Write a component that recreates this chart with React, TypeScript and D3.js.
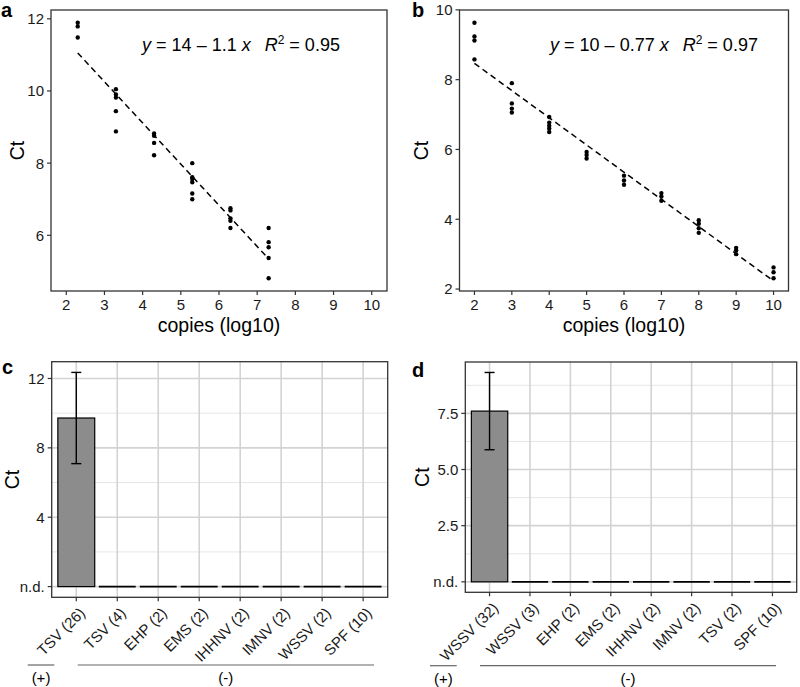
import React from "react";
import * as d3 from "d3";

// ---------- DATA ----------
const aCopies = [2.3, 2.3, 2.3, 3.3, 3.3, 3.3, 3.3, 3.3, 4.3, 4.3, 4.3, 4.3, 5.3, 5.3, 5.3, 5.3, 5.3, 5.3, 6.3, 6.3, 6.3, 6.3, 6.3, 7.3, 7.3, 7.3, 7.3, 7.3];
const aCt = [11.89, 11.79, 11.48, 10.05, 9.9, 9.82, 9.44, 8.88, 8.82, 8.76, 8.56, 8.22, 8.0, 7.61, 7.56, 7.47, 7.16, 7.0, 6.75, 6.69, 6.47, 6.4, 6.2, 6.2, 5.81, 5.67, 5.37, 4.81];
const bCopies = [2, 2, 2, 2, 3, 3, 3, 3, 4, 4, 4, 4, 4, 5, 5, 5, 6, 6, 6, 7, 7, 7, 8, 8, 8, 8, 9, 9, 9, 10, 10, 10];
const bCt = [9.63, 9.24, 9.12, 8.58, 7.9, 7.32, 7.17, 7.06, 6.93, 6.77, 6.68, 6.6, 6.5, 5.93, 5.84, 5.74, 5.25, 5.11, 4.99, 4.75, 4.65, 4.53, 3.97, 3.87, 3.74, 3.61, 3.18, 3.11, 3.0, 2.62, 2.48, 2.31];
const copiesLimits = [2, 10];
const copiesTicks = [2, 3, 4, 5, 6, 7, 8, 9, 10];
const aCtTicks = [6, 8, 10, 12];
const bCtTicks = [2, 4, 6, 8, 10];
const aEquation = { intercept: "14", slope: "1.1", r2: "0.95" };
const bEquation = { intercept: "10", slope: "0.77", r2: "0.97" };

const cCategories = ["TSV (26)", "TSV (4)", "EHP (2)", "EMS (2)", "IHHNV (2)", "IMNV (2)", "WSSV (2)", "SPF (10)"];
const cMean = [9.72, 0, 0, 0, 0, 0, 0, 0];
const cSd = [2.63, 0, 0, 0, 0, 0, 0, 0];
const cTicks = [0, 4, 8, 12];
const cTickLabels = ["n.d.", "4", "8", "12"];
const cMinor = [2, 6, 10];

const dCategories = ["WSSV (32)", "WSSV (3)", "EHP (2)", "EMS (2)", "IHHNV (2)", "IMNV (2)", "TSV (2)", "SPF (10)"];
const dMean = [7.6, 0, 0, 0, 0, 0, 0, 0];
const dSd = [1.72, 0, 0, 0, 0, 0, 0, 0];
const dTicks = [0, 2.5, 5, 7.5];
const dTickLabels = ["n.d.", "2.5", "5.0", "7.5"];
const dMinor = [1.25, 3.75, 6.25, 8.75];

const groupLabels = ["(+)", "(-)"];

// ---------- STYLE ----------
const FONT = "'Liberation Sans', Arial, Helvetica, sans-serif";
const AXIS = "#333333";
const TICKFS = 15;
const TITLEFS = 19.5;

function expand(lo: number, hi: number, m = 0.05): [number, number] {
  const r = hi - lo;
  return [lo - r * m, hi + r * m];
}

type ScatterProps = {
  box: { l: number; t: number; r: number; b: number };
  xs: number[];
  ys: number[];
  yTicks: number[];
  eq: { intercept: string; slope: string; r2: string };
  eqX: number;
  label: string;
  labelX: number;
  labelY: number;
  ctX: number;
};

function ScatterPanel({ box, xs, ys, yTicks, eq, eqX, label, labelX, labelY, ctX }: ScatterProps) {
  const x = d3.scaleLinear().domain(expand(copiesLimits[0], copiesLimits[1])).range([box.l, box.r]);
  const [ymin, ymax] = d3.extent(ys) as [number, number];
  const y = d3.scaleLinear().domain(expand(ymin, ymax)).range([box.b, box.t]);
  // least squares fit
  const mx = d3.mean(xs)!;
  const my = d3.mean(ys)!;
  let sxy = 0, sxx = 0;
  xs.forEach((v, i) => { sxy += (v - mx) * (ys[i] - my); sxx += (v - mx) * (v - mx); });
  const slope = sxy / sxx;
  const icpt = my - slope * mx;
  const [x0, x1] = d3.extent(xs) as [number, number];
  const line = d3.line<number>().x((v) => x(v)).y((v) => y(icpt + slope * v));
  const cy = (box.t + box.b) / 2;
  const cx = (box.l + box.r) / 2;
  return (
    <g>
      <rect x={box.l} y={box.t} width={box.r - box.l} height={box.b - box.t} fill="white" stroke={AXIS} strokeWidth={1.3} />
      {xs.map((v, i) => (
        <circle key={i} cx={x(v)} cy={y(ys[i])} r={2.2} fill="black" />
      ))}
      <path d={line([x0, x1]) || ""} fill="none" stroke="black" strokeWidth={1.5} strokeDasharray="6,4" />
      {copiesTicks.map((t) => (
        <g key={t}>
          <line x1={x(t)} x2={x(t)} y1={box.b} y2={box.b + 4} stroke={AXIS} strokeWidth={1.2} />
          <text x={x(t)} y={box.b + 19} textAnchor="middle" fontSize={TICKFS} fill="#1a1a1a">{t}</text>
        </g>
      ))}
      {yTicks.map((t) => (
        <g key={t}>
          <line x1={box.l - 4} x2={box.l} y1={y(t)} y2={y(t)} stroke={AXIS} strokeWidth={1.2} />
          <text x={box.l - 7} y={y(t)} dy="0.36em" textAnchor="end" fontSize={TICKFS} fill="#1a1a1a">{t}</text>
        </g>
      ))}
      <text x={cx} y={box.b + 41} textAnchor="middle" fontSize={TITLEFS}>copies (log10)</text>
      <text transform={`translate(${ctX},${cy}) rotate(-90)`} textAnchor="middle" fontSize={TITLEFS}>Ct</text>
      <text x={eqX} y={box.t + 41} textAnchor="middle" fontSize={18}>
        <tspan fontStyle="italic">y</tspan>
        <tspan>{` = ${eq.intercept} – ${eq.slope} `}</tspan>
        <tspan fontStyle="italic">x</tspan>
        <tspan dx={14} fontStyle="italic">R</tspan>
        <tspan dy={-7} fontSize={12}>2</tspan>
        <tspan dy={7}>{` = ${eq.r2}`}</tspan>
      </text>
      <text x={labelX} y={labelY} fontSize={20} fontWeight="bold">{label}</text>
    </g>
  );
}

type BarProps = {
  box: { l: number; t: number; r: number; b: number };
  cats: string[];
  mean: number[];
  sd: number[];
  ticks: number[];
  tickLabels: string[];
  minor: number[];
  label: string;
  labelX: number;
  labelY: number;
  ctX: number;
  plusLine: [number, number];
  minusLine: [number, number];
  groupY: number;
};

function BarPanel({ box, cats, mean, sd, ticks, tickLabels, minor, label, labelX, labelY, ctX, plusLine, minusLine, groupY }: BarProps) {
  const n = cats.length;
  const xi = d3.scaleLinear().domain([1 - 0.6, n + 0.6]).range([box.l, box.r]);
  const unit = xi(2) - xi(1);
  const bw = unit * 0.9;
  const top = d3.max(mean.map((m, i) => m + sd[i]))!;
  const y = d3.scaleLinear().domain(expand(0, top)).range([box.b, box.t]);
  const cy = (box.t + box.b) / 2;
  return (
    <g>
      <rect x={box.l} y={box.t} width={box.r - box.l} height={box.b - box.t} fill="white" />
      {minor.map((t) => (
        <line key={"m" + t} x1={box.l} x2={box.r} y1={y(t)} y2={y(t)} stroke="#e3e3e3" strokeWidth={0.9} />
      ))}
      {ticks.map((t) => (
        <line key={"g" + t} x1={box.l} x2={box.r} y1={y(t)} y2={y(t)} stroke="#d3d3d3" strokeWidth={1.6} />
      ))}
      {cats.map((c, i) => (
        <line key={"v" + c} x1={xi(i + 1)} x2={xi(i + 1)} y1={box.t} y2={box.b} stroke="#d3d3d3" strokeWidth={1.6} />
      ))}
      {cats.map((c, i) =>
        mean[i] > 0 ? (
          <rect key={"b" + c} x={xi(i + 1) - bw / 2} y={y(mean[i])} width={bw} height={y(0) - y(mean[i])} fill="#8c8c8c" stroke="black" strokeWidth={1.2} />
        ) : (
          <line key={"b" + c} x1={xi(i + 1) - bw / 2} x2={xi(i + 1) + bw / 2} y1={y(0)} y2={y(0)} stroke="black" strokeWidth={1.8} />
        )
      )}
      {cats.map((c, i) =>
        sd[i] > 0 ? (
          <g key={"e" + c}>
            <line x1={xi(i + 1)} x2={xi(i + 1)} y1={y(mean[i] - sd[i])} y2={y(mean[i] + sd[i])} stroke="black" strokeWidth={1.4} />
            <line x1={xi(i + 1) - 5} x2={xi(i + 1) + 5} y1={y(mean[i] - sd[i])} y2={y(mean[i] - sd[i])} stroke="black" strokeWidth={1.4} />
            <line x1={xi(i + 1) - 5} x2={xi(i + 1) + 5} y1={y(mean[i] + sd[i])} y2={y(mean[i] + sd[i])} stroke="black" strokeWidth={1.4} />
          </g>
        ) : null
      )}
      <rect x={box.l} y={box.t} width={box.r - box.l} height={box.b - box.t} fill="none" stroke={AXIS} strokeWidth={1.3} />
      {ticks.map((t, i) => (
        <g key={"t" + t}>
          <line x1={box.l - 4} x2={box.l} y1={y(t)} y2={y(t)} stroke={AXIS} strokeWidth={1.2} />
          <text x={box.l - 7} y={y(t)} dy="0.36em" textAnchor="end" fontSize={TICKFS} fill="#1a1a1a">{tickLabels[i]}</text>
        </g>
      ))}
      {cats.map((c, i) => (
        <g key={"x" + c}>
          <line x1={xi(i + 1)} x2={xi(i + 1)} y1={box.b} y2={box.b + 4} stroke={AXIS} strokeWidth={1.2} />
          <text transform={`translate(${xi(i + 1) + 2},${box.b + 9}) rotate(-45)`} dy="0.72em" textAnchor="end" fontSize={TICKFS} fill="#1a1a1a">{c}</text>
        </g>
      ))}
      <text transform={`translate(${ctX},${cy}) rotate(-90)`} textAnchor="middle" fontSize={TITLEFS}>Ct</text>
      <text x={labelX} y={labelY} fontSize={20} fontWeight="bold">{label}</text>
      <line x1={plusLine[0]} x2={plusLine[1]} y1={groupY} y2={groupY} stroke="#666" strokeWidth={1.2} />
      <line x1={minusLine[0]} x2={minusLine[1]} y1={groupY} y2={groupY} stroke="#666" strokeWidth={1.2} />
      <text x={(plusLine[0] + plusLine[1]) / 2} y={groupY + 18} textAnchor="middle" fontSize={TICKFS}>{groupLabels[0]}</text>
      <text x={(minusLine[0] + minusLine[1]) / 2} y={groupY + 18} textAnchor="middle" fontSize={TICKFS}>{groupLabels[1]}</text>
    </g>
  );
}

export default function App() {
  return (
    <svg width={800} height={687} style={{ position: "absolute", left: 0, top: 0, background: "white" }} fontFamily={FONT}>
      <rect x={0} y={0} width={800} height={687} fill="white" />
      <ScatterPanel box={{ l: 51, t: 10, r: 387, b: 291 }} xs={aCopies} ys={aCt} yTicks={aCtTicks} eq={aEquation} eqX={241} label="a" labelX={1} labelY={17} ctX={24} />
      <ScatterPanel box={{ l: 459.5, t: 10, r: 788.5, b: 291 }} xs={bCopies} ys={bCt} yTicks={bCtTicks} eq={bEquation} eqX={654} label="b" labelX={412} labelY={17} ctX={428} />
      <BarPanel box={{ l: 51.7, t: 361.7, r: 387.7, b: 597.3 }} cats={cCategories} mean={cMean} sd={cSd} ticks={cTicks} tickLabels={cTickLabels} minor={cMinor} label="c" labelX={2} labelY={374} ctX={18.5} plusLine={[27.7, 54.3]} minusLine={[77.7, 374]} groupY={665} />
      <BarPanel box={{ l: 465.3, t: 362, r: 796.7, b: 592.3 }} cats={dCategories} mean={dMean} sd={dSd} ticks={dTicks} tickLabels={dTickLabels} minor={dMinor} label="d" labelX={412} labelY={377} ctX={429} plusLine={[430, 456.7]} minusLine={[480, 776]} groupY={665.7} />
    </svg>
  );
}
